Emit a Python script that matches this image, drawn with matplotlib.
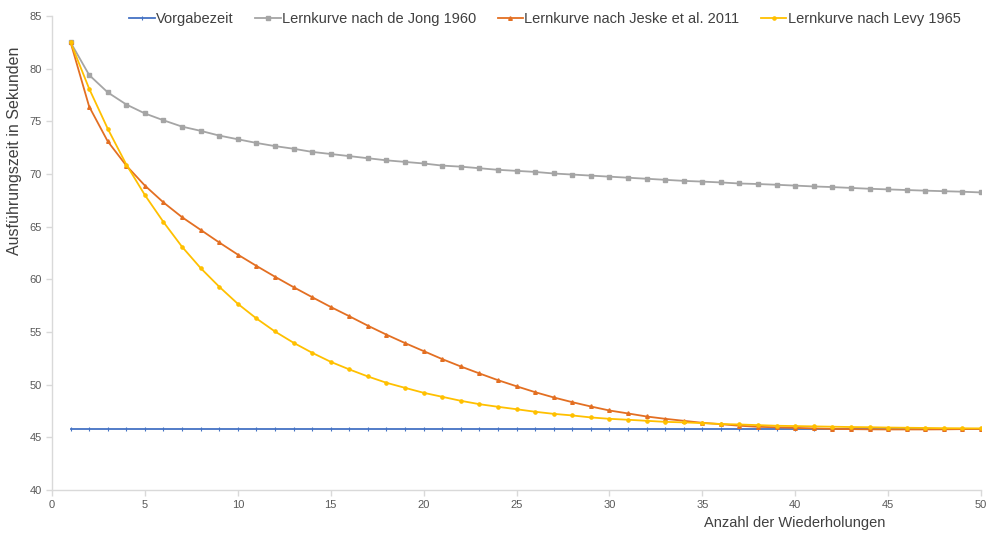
import matplotlib
matplotlib.use("Agg")
import matplotlib.pyplot as plt

wiederholungen = list(range(1, 51))

vorgabezeit = [45.8] * 50

de_jong_1960 = [82.5, 79.4, 77.75, 76.6, 75.75, 75.1, 74.5, 74.1, 73.65, 73.3,
                72.95, 72.65, 72.4, 72.1, 71.9, 71.7, 71.5, 71.3, 71.15, 71.0,
                70.8, 70.7, 70.55, 70.4, 70.3, 70.2, 70.05, 69.95, 69.85, 69.75,
                69.65, 69.55, 69.45, 69.35, 69.28, 69.2, 69.1, 69.05, 68.98, 68.9,
                68.82, 68.76, 68.68, 68.6, 68.54, 68.48, 68.42, 68.37, 68.32, 68.25]

jeske_2011 = [82.5, 76.4, 73.1, 70.8, 68.9, 67.3, 65.9, 64.7, 63.5, 62.35,
              61.28, 60.25, 59.26, 58.31, 57.38, 56.5, 55.6, 54.75, 53.95, 53.19,
              52.43, 51.73, 51.07, 50.43, 49.85, 49.29, 48.79, 48.34, 47.93, 47.55,
              47.27, 46.98, 46.76, 46.57, 46.38, 46.25, 46.1, 46.0, 45.95, 45.9,
              45.85, 45.8, 45.78, 45.76, 45.75, 45.75, 45.75, 45.76, 45.78, 45.8]

levy_1965 = [82.5, 78.1, 74.3, 70.9, 68.0, 65.44, 63.09, 61.07, 59.3, 57.68,
             56.29, 55.05, 53.98, 53.03, 52.17, 51.45, 50.78, 50.18, 49.7, 49.23,
             48.85, 48.47, 48.15, 47.9, 47.67, 47.43, 47.23, 47.08, 46.89, 46.76,
             46.67, 46.57, 46.47, 46.42, 46.35, 46.27, 46.22, 46.16, 46.1, 46.07,
             46.04, 46.01, 45.98, 45.96, 45.93, 45.91, 45.89, 45.87, 45.86, 45.85]

series_labels = ["Vorgabezeit", "Lernkurve nach de Jong 1960",
                 "Lernkurve nach Jeske et al. 2011", "Lernkurve nach Levy 1965"]

x_ticks = list(range(0, 51, 5))
y_ticks = list(range(40, 86, 5))

plt.rcParams['font.family'] = ['Liberation Sans', 'DejaVu Sans']

fig = plt.figure(figsize=(10, 5.45), dpi=100)
ax = fig.add_axes([0.052, 0.1009, 0.929, 0.8697])

lw = 1.3
ax.plot(wiederholungen, vorgabezeit, color="#4472C4", lw=lw, marker="|",
        markersize=3.5, markeredgewidth=0.8, label=series_labels[0], zorder=2)
ax.plot(wiederholungen, de_jong_1960, color="#A5A5A5", lw=lw, marker="s",
        markersize=2.4, label=series_labels[1], zorder=3)
ax.plot(wiederholungen, jeske_2011, color="#E36F22", lw=lw, marker="^",
        markersize=2.6, label=series_labels[2], zorder=3)
ax.plot(wiederholungen, levy_1965, color="#FFC000", lw=lw, marker="o",
        markersize=2.3, label=series_labels[3], zorder=4)

ax.set_xlim(0, 50)
ax.set_ylim(40, 85)
ax.set_xticks(x_ticks)
ax.set_yticks(y_ticks)

for s in ["top", "right"]:
    ax.spines[s].set_visible(False)
for s in ["left", "bottom"]:
    ax.spines[s].set_color("#D9D9D9")
    ax.spines[s].set_linewidth(1.0)
ax.tick_params(axis="both", colors="#D9D9D9", labelcolor="#595959",
               labelsize=8, length=4, width=1.0, direction="out")

fig.text(0.885, 0.040, "Anzahl der Wiederholungen", ha="right", va="center",
         fontsize=10.5, color="#404040")
fig.text(0.015, 1 - 151 / 545, "Ausführungszeit in Sekunden", ha="center",
         va="center", rotation=90, fontsize=11.5, color="#404040")

leg = fig.legend(loc="center", bbox_to_anchor=(0.545, 1 - 19 / 545), ncol=4,
                 frameon=False, fontsize=10.5, handlelength=1.75,
                 columnspacing=1.45, handletextpad=0.1)
for t in leg.get_texts():
    t.set_color("#404040")

fig.savefig("out.png", dpi=100)
